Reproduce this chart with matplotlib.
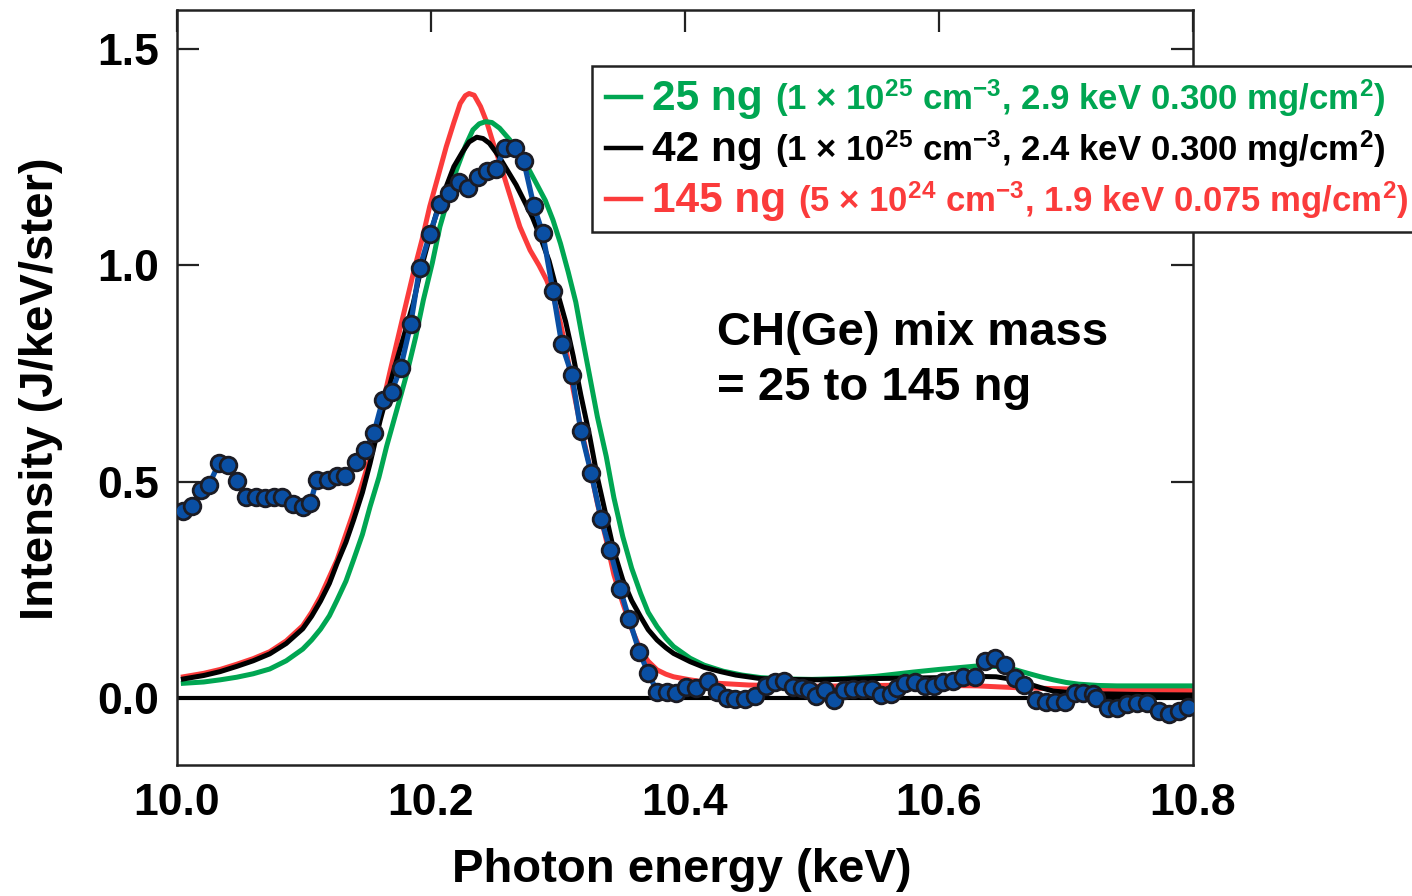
import numpy as np
import matplotlib
matplotlib.use('Agg')
import matplotlib.pyplot as plt
from matplotlib.patches import Rectangle
from matplotlib.lines import Line2D

plt.rcParams['font.family'] = ['Liberation Sans', 'DejaVu Sans']
plt.rcParams['font.weight'] = 'bold'
plt.rcParams['mathtext.fontset'] = 'custom'
plt.rcParams['mathtext.rm'] = 'Liberation Sans:bold'
plt.rcParams['mathtext.bf'] = 'Liberation Sans:bold'
plt.rcParams['mathtext.default'] = 'rm'

# Dati misurati (punti blu)
x_dati = [10.005, 10.012, 10.019, 10.025, 10.033, 10.040, 10.047, 10.054, 10.062, 10.069,
          10.076, 10.083, 10.091, 10.099, 10.105, 10.110, 10.119, 10.126, 10.132, 10.141,
          10.148, 10.155, 10.162, 10.169, 10.176, 10.184, 10.191, 10.199, 10.207, 10.214,
          10.222, 10.229, 10.237, 10.244, 10.251, 10.258, 10.266, 10.273, 10.281, 10.288,
          10.296, 10.303, 10.311, 10.318, 10.326, 10.334, 10.341, 10.349, 10.356, 10.364,
          10.371, 10.378, 10.386, 10.393, 10.401, 10.409, 10.418, 10.425, 10.433, 10.439,
          10.447, 10.455, 10.464, 10.471, 10.478, 10.485, 10.492, 10.498, 10.503, 10.510,
          10.517, 10.525, 10.532, 10.540, 10.547, 10.554, 10.562, 10.567, 10.573, 10.581,
          10.589, 10.596, 10.603, 10.611, 10.619, 10.628, 10.636, 10.644, 10.652, 10.660,
          10.667, 10.676, 10.684, 10.691, 10.699, 10.707, 10.713, 10.721, 10.724, 10.733,
          10.740, 10.748, 10.756, 10.764, 10.773, 10.781, 10.789, 10.796]
y_dati = [0.433, 0.444, 0.481, 0.492, 0.542, 0.538, 0.501, 0.465, 0.465, 0.463,
          0.464, 0.465, 0.448, 0.441, 0.450, 0.504, 0.504, 0.513, 0.513, 0.546,
          0.572, 0.612, 0.689, 0.708, 0.762, 0.864, 0.993, 1.072, 1.142, 1.166,
          1.192, 1.179, 1.203, 1.219, 1.223, 1.270, 1.272, 1.241, 1.137, 1.074,
          0.941, 0.817, 0.746, 0.617, 0.521, 0.414, 0.342, 0.252, 0.182, 0.107,
          0.058, 0.015, 0.015, 0.012, 0.025, 0.022, 0.040, 0.015, -0.001, -0.002,
          -0.002, 0.005, 0.028, 0.038, 0.040, 0.025, 0.022, 0.018, 0.005, 0.018,
          -0.005, 0.018, 0.020, 0.020, 0.020, 0.007, 0.009, 0.022, 0.034, 0.036,
          0.028, 0.028, 0.036, 0.040, 0.048, 0.048, 0.086, 0.092, 0.076, 0.046,
          0.030, -0.005, -0.009, -0.009, -0.009, 0.012, 0.011, 0.009, -0.001, -0.024,
          -0.024, -0.014, -0.012, -0.011, -0.030, -0.037, -0.029, -0.021]

# Curve calcolate
x_25 = [10.005, 10.021, 10.034, 10.047, 10.060, 10.073, 10.086, 10.099, 10.106, 10.113,
        10.120, 10.126, 10.133, 10.139, 10.146, 10.152, 10.159, 10.165, 10.173, 10.181,
        10.188, 10.194, 10.201, 10.207, 10.214, 10.220, 10.227, 10.233, 10.238, 10.243,
        10.248, 10.254, 10.262, 10.270, 10.277, 10.283, 10.290, 10.296, 10.302, 10.308,
        10.314, 10.319, 10.325, 10.331, 10.338, 10.344, 10.351, 10.358, 10.365, 10.371,
        10.378, 10.385, 10.391, 10.404, 10.415, 10.430, 10.445, 10.460, 10.480, 10.500,
        10.525, 10.550, 10.580, 10.600, 10.615, 10.630, 10.645, 10.658, 10.670, 10.680,
        10.690, 10.700, 10.710, 10.725, 10.740, 10.770, 10.800]
y_25 = [0.034, 0.037, 0.042, 0.048, 0.056, 0.067, 0.086, 0.113, 0.134, 0.159,
        0.190, 0.226, 0.270, 0.319, 0.378, 0.442, 0.510, 0.581, 0.665, 0.750,
        0.835, 0.920, 1.005, 1.089, 1.160, 1.220, 1.275, 1.313, 1.327, 1.332,
        1.330, 1.317, 1.290, 1.251, 1.222, 1.189, 1.150, 1.105, 1.050, 0.985,
        0.915, 0.835, 0.743, 0.650, 0.558, 0.463, 0.373, 0.300, 0.242, 0.198,
        0.165, 0.138, 0.119, 0.092, 0.076, 0.062, 0.053, 0.047, 0.044, 0.043,
        0.045, 0.050, 0.060, 0.066, 0.070, 0.074, 0.073, 0.067, 0.057, 0.049,
        0.042, 0.036, 0.032, 0.029, 0.028, 0.028, 0.028]

x_42 = [10.005, 10.021, 10.034, 10.047, 10.060, 10.073, 10.086, 10.099, 10.106, 10.113,
        10.120, 10.126, 10.133, 10.139, 10.146, 10.152, 10.160, 10.170, 10.178, 10.186,
        10.192, 10.199, 10.205, 10.212, 10.218, 10.225, 10.230, 10.236, 10.241, 10.246,
        10.253, 10.260, 10.267, 10.273, 10.280, 10.286, 10.293, 10.299, 10.306, 10.312,
        10.318, 10.325, 10.331, 10.338, 10.344, 10.351, 10.358, 10.365, 10.371, 10.378,
        10.385, 10.391, 10.404, 10.415, 10.428, 10.440, 10.459, 10.480, 10.506, 10.550,
        10.600, 10.630, 10.645, 10.658, 10.670, 10.680, 10.690, 10.705, 10.720, 10.760,
        10.800]
y_42 = [0.044, 0.052, 0.061, 0.073, 0.086, 0.102, 0.126, 0.160, 0.189, 0.224,
        0.265, 0.311, 0.360, 0.411, 0.475, 0.542, 0.642, 0.750, 0.830, 0.912,
        0.990, 1.066, 1.128, 1.182, 1.228, 1.263, 1.285, 1.296, 1.293, 1.282,
        1.254, 1.220, 1.186, 1.151, 1.110, 1.066, 1.010, 0.943, 0.870, 0.790,
        0.700, 0.604, 0.510, 0.419, 0.340, 0.273, 0.225, 0.188, 0.158, 0.134,
        0.116, 0.103, 0.084, 0.071, 0.061, 0.053, 0.045, 0.043, 0.042, 0.045,
        0.047, 0.050, 0.049, 0.043, 0.033, 0.024, 0.016, 0.012, 0.010, 0.008,
        0.007]

x_145 = [10.005, 10.021, 10.034, 10.047, 10.060, 10.073, 10.086, 10.099, 10.106, 10.113,
         10.126, 10.139, 10.152, 10.160, 10.168, 10.177, 10.186, 10.193, 10.199, 10.206,
         10.212, 10.218, 10.223, 10.227, 10.230, 10.234, 10.239, 10.244, 10.249, 10.255,
         10.260, 10.265, 10.270, 10.278, 10.285, 10.291, 10.297, 10.302, 10.307, 10.312,
         10.318, 10.325, 10.331, 10.338, 10.344, 10.351, 10.358, 10.365, 10.371, 10.378,
         10.385, 10.391, 10.404, 10.420, 10.450, 10.500, 10.580, 10.630, 10.660, 10.700,
         10.800]
y_145 = [0.049, 0.057, 0.066, 0.078, 0.091, 0.107, 0.132, 0.167, 0.198, 0.235,
         0.319, 0.430, 0.555, 0.655, 0.758, 0.870, 0.981, 1.060, 1.136, 1.210,
         1.274, 1.330, 1.374, 1.392, 1.397, 1.393, 1.367, 1.330, 1.282, 1.230,
         1.182, 1.135, 1.089, 1.035, 1.000, 0.966, 0.920, 0.866, 0.795, 0.712,
         0.625, 0.535, 0.450, 0.365, 0.285, 0.219, 0.160, 0.111, 0.085, 0.065,
         0.055, 0.049, 0.042, 0.035, 0.030, 0.027, 0.030, 0.028, 0.024, 0.021,
         0.017]

verde = '#00a652'
rosso = '#fb3b3b'
blu = '#0a4fa3'

fig = plt.figure(figsize=(14.12, 8.96), dpi=100)
ax = fig.add_axes([177/1412, 1 - 765/896, (1193-177)/1412, (765-10)/896])

ax.plot(x_145, y_145, color=rosso, lw=3.6, solid_joinstyle='round')
ax.plot(x_25, y_25, color=verde, lw=3.6, solid_joinstyle='round')
ax.plot(x_42, y_42, color='black', lw=3.6, solid_joinstyle='round')
ax.axhline(0, color='black', lw=3.0, zorder=2)
ax.plot(x_dati, y_dati, '-', color=blu, lw=3.8, zorder=3)
ax.plot(x_dati, y_dati, 'o', ms=12, mfc=blu, mec='#1c1c24', mew=2.0, zorder=4)

ax.set_xlim(10.0, 10.8)
ax.set_ylim((698-765)/432.7, (698-10)/432.7)
ax.set_xticks([10.0, 10.2, 10.4, 10.6, 10.8])
ax.set_xticklabels(['10.0', '10.2', '10.4', '10.6', '10.8'])
ax.set_yticks([0.0, 0.5, 1.0, 1.5])
ax.set_yticklabels(['0.0', '0.5', '1.0', '1.5'])
ax.tick_params(axis='y', direction='in', length=16, width=1.6, left=True, right=True,
               labelsize=32, pad=13, color='#222222')
ax.tick_params(axis='x', direction='in', length=16, width=1.6, bottom=False, top=True,
               labelsize=32, pad=13, color='#222222')
for s in ax.spines.values():
    s.set_linewidth(1.8)
    s.set_color('#222222')

ax.set_xlabel('Photon energy (keV)', fontsize=34, fontweight='bold')
ax.xaxis.set_label_coords(0.497, -0.11)
ax.set_ylabel('Intensity (J/keV/ster)', fontsize=34, fontweight='bold')
ax.yaxis.set_label_coords(-0.112, 0.498)

fig.text(717/1412, 1 - 345/896, 'CH(Ge) mix mass', fontsize=34, fontweight='bold', va='baseline')
fig.text(717/1412, 1 - 400/896, '= 25 to 145 ng', fontsize=34, fontweight='bold', va='baseline')

# Legenda manuale
fig.patches.append(Rectangle((592/1412, 1 - 232/896), (1430-592)/1412, (232-66)/896,
                             transform=fig.transFigure, facecolor='white',
                             edgecolor='#222222', lw=1.8, zorder=5))
righe = [('25 ng', '(1 × 10$^{25}$ cm$^{-3}$, 2.9 keV 0.300 mg/cm$^{2}$)', verde, 110),
         ('42 ng', '(1 × 10$^{25}$ cm$^{-3}$, 2.4 keV 0.300 mg/cm$^{2}$)', 'black', 161),
         ('145 ng', '(5 × 10$^{24}$ cm$^{-3}$, 1.9 keV 0.075 mg/cm$^{2}$)', rosso, 212)]
renderer = fig.canvas.get_renderer()
for grande, piccolo, col, base in righe:
    fig.lines.append(Line2D([606/1412, 641/1412], [1 - (base-13)/896]*2, color=col, lw=3.2,
                            transform=fig.transFigure, zorder=6))
    t = fig.text(652/1412, 1 - base/896, grande, fontsize=30.5, fontweight='bold', color=col,
                 va='baseline', zorder=6)
    bb = t.get_window_extent(renderer)
    fig.text((bb.x1 + 12)/1412, 1 - base/896, piccolo, fontsize=25, fontweight='bold',
             color=col, va='baseline', zorder=6)

fig.savefig('out.png', dpi=100)
